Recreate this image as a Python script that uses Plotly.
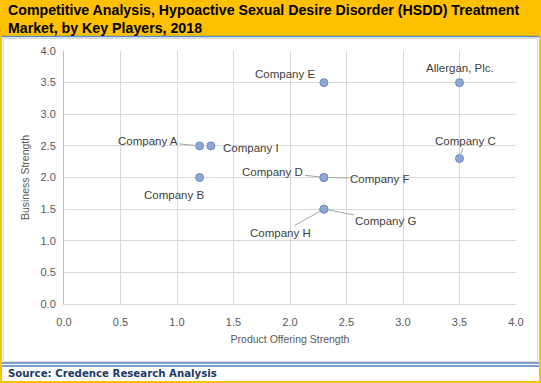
import plotly.graph_objects as go

companies = ["Company A", "Company I", "Company B", "Company E", "Company D",
             "Company F", "Company H", "Company G", "Allergan, Plc.", "Company C"]
product_strength = [1.2, 1.3, 1.2, 2.3, 2.3, 2.3, 2.3, 2.3, 3.5, 3.5]
business_strength = [2.5, 2.5, 2.0, 3.5, 2.0, 2.0, 1.5, 1.5, 3.5, 2.3]
tick_vals = [0, 0.5, 1.0, 1.5, 2.0, 2.5, 3.0, 3.5, 4.0]
tick_text = ["0.0", "0.5", "1.0", "1.5", "2.0", "2.5", "3.0", "3.5", "4.0"]

title_text = ("Competitive Analysis, Hypoactive Sexual Desire Disorder (HSDD) Treatment<br>"
              "Market, by Key Players, 2018")
source_text = "Source: Credence Research Analysis"

# label placement (pixel offsets) : (dx, dy, leader)
label_pos = {
    "Company A": (-52, -5, True),
    "Company I": (40, 2, False),
    "Company B": (-26, 17, False),
    "Company E": (-39, -9, False),
    "Company D": (-51, -6, True),
    "Company F": (56, 1, True),
    "Company H": (-43, 24, True),
    "Company G": (62, 12, True),
    "Allergan, Plc.": (0, -15, False),
    "Company C": (6, -18, True),
}

W, H = 541, 383
L, R, T, B = 64, 25, 51, 79
pw, ph = W - L - R, H - T - B


def px(x):
    return (x - L) / pw


def py(y):
    return (H - B - y) / ph


fig = go.Figure()
fig.add_trace(go.Scatter(
    x=product_strength, y=business_strength, mode="markers",
    marker=dict(size=8, color="#8EA8D6", line=dict(color="#6B8BC4", width=1)),
    hoverinfo="text", text=companies, showlegend=False,
))

annotations = []
lab_font = dict(family="Liberation Sans, Arial, sans-serif", size=11.5, color="#404040")
for name, xv, yv in zip(companies, product_strength, business_strength):
    dx, dy, leader = label_pos[name]
    if leader:
        annotations.append(dict(x=xv, y=yv, xref="x", yref="y", text=name,
                                showarrow=True, ax=dx, ay=dy, arrowhead=0,
                                arrowwidth=1, arrowcolor="#A6A6A6", standoff=4,
                                font=lab_font))
    else:
        annotations.append(dict(x=xv, y=yv, xref="x", yref="y", text=name,
                                showarrow=False, xshift=dx, yshift=-dy,
                                font=lab_font))

annotations.append(dict(
    x=px(6), y=py(19), xref="paper", yref="paper", xanchor="left", yanchor="middle",
    text="<b>" + title_text + "</b>", showarrow=False, align="left",
    font=dict(family="Liberation Sans, Arial, sans-serif", size=14.2, color="#000000")))
annotations.append(dict(
    x=px(6), y=py(373), xref="paper", yref="paper", xanchor="left", yanchor="middle",
    text="<b>" + source_text + "</b>", showarrow=False, align="left",
    font=dict(family="DejaVu Sans, Verdana, sans-serif", size=10.2, color="#1F3864")))

shapes = [
    dict(type="rect", xref="paper", yref="paper", x0=px(0), x1=px(W), y0=py(36.5), y1=py(0),
         fillcolor="#FFC000", line=dict(width=0), layer="below"),
    dict(type="rect", xref="paper", yref="paper", x0=px(3.5), x1=px(537.5), y0=py(361.5), y1=py(38.5),
         line=dict(color="#D9D9D9", width=1), layer="below"),
    dict(type="line", xref="paper", yref="paper", x0=px(0), x1=px(W), y0=py(36.5), y1=py(36.5),
         line=dict(color="#5B8BC9", width=1.5)),
    dict(type="line", xref="paper", yref="paper", x0=px(0), x1=px(W), y0=py(363), y1=py(363),
         line=dict(color="#4F81BD", width=1.5)),
    dict(type="line", xref="paper", yref="paper", x0=px(0), x1=px(W), y0=py(366), y1=py(366),
         line=dict(color="#4F81BD", width=1.5)),
    dict(type="rect", xref="paper", yref="paper", x0=px(0), x1=px(2), y0=py(H), y1=py(0),
         fillcolor="#FFC000", line=dict(width=0)),
    dict(type="rect", xref="paper", yref="paper", x0=px(539), x1=px(W), y0=py(H), y1=py(0),
         fillcolor="#FFC000", line=dict(width=0)),
    dict(type="rect", xref="paper", yref="paper", x0=px(0), x1=px(W), y0=py(H), y1=py(381),
         fillcolor="#FFC000", line=dict(width=0)),
]

axis_common = dict(
    range=[0, 4], tickvals=tick_vals, ticktext=tick_text,
    showgrid=True, gridcolor="#D9D9D9", gridwidth=1, zeroline=False,
    tickfont=dict(family="Liberation Sans, Arial, sans-serif", size=11, color="#595959"),
    fixedrange=True,
)

fig.update_layout(
    width=W, height=H,
    margin=dict(l=L, r=R, t=T, b=B, pad=0),
    paper_bgcolor="white", plot_bgcolor="white",
    xaxis=dict(**axis_common, showline=True, linecolor="#D9D9D9", ticks="", ticklen=0,
               ticklabelstandoff=8,
               title=dict(text="Product Offering Strength", standoff=8,
                          font=dict(family="Liberation Sans, Arial, sans-serif", size=10.5, color="#595959"))),
    yaxis=dict(**axis_common, showline=True, linecolor="#BFBFBF", ticks="", ticklen=0,
               ticklabelstandoff=5,
               title=dict(text="Business Strength", standoff=8,
                          font=dict(family="Liberation Sans, Arial, sans-serif", size=10.5, color="#595959"))),
    annotations=annotations,
    shapes=shapes,
    showlegend=False,
)

fig.write_html("out.html", config={"displayModeBar": False},
               post_script="document.body.style.margin='0';document.body.style.padding='0';")
